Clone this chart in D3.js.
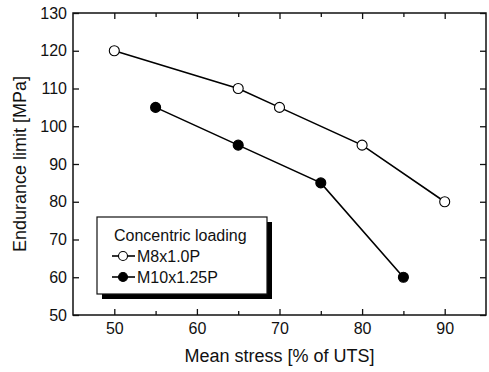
<!DOCTYPE html>
<html>
<head>
<meta charset="utf-8">
<script src="https://cdn.jsdelivr.net/npm/d3@7"></script>
<style>
  body { margin: 0; background: #fff; }
  svg text { font-family: "Liberation Sans", Arial, sans-serif; fill: #111; }
</style>
</head>
<body>
<svg id="chart" width="489" height="372"></svg>
<script>
// data
const m8Stress = [50, 65, 70, 80, 90];
const m8Limit = [120, 110, 105, 95, 80];
const m10Stress = [55, 65, 75, 85];
const m10Limit = [105, 95, 85, 60];
const seriesNames = ["M8x1.0P", "M10x1.25P"];
const legendTitle = "Concentric loading";
const xMajor = [50, 60, 70, 80, 90];
const xMinor = [55, 65, 75, 85];
const yMajor = [50, 60, 70, 80, 90, 100, 110, 120, 130];

const svg = d3.select("#chart");
const width = +svg.attr("width");
const height = +svg.attr("height");
const margin = {top: 13, right: 3, bottom: 57, left: 73};
const innerW = width - margin.left - margin.right;
const innerH = height - margin.top - margin.bottom;

const x = d3.scaleLinear().domain([45, 95]).range([0, innerW]);
const y = d3.scaleLinear().domain([50, 130]).range([innerH, 0]);

const g = svg.append("g")
  .attr("transform", `translate(${margin.left},${margin.top})`);

// axes with inward ticks
function styleAxis(sel) {
  sel.select(".domain").remove();
  sel.selectAll(".tick line").attr("stroke", "#111").attr("stroke-width", 1.3);
  sel.selectAll(".tick text").style("font-size", "16px").attr("fill", "#111");
}

g.append("g").attr("transform", `translate(0,${innerH})`)
  .call(d3.axisBottom(x).tickValues(xMajor).tickSize(-6).tickPadding(8).tickFormat(d3.format("d")))
  .call(styleAxis);
g.append("g").attr("transform", `translate(0,${innerH})`)
  .call(d3.axisBottom(x).tickValues(xMinor).tickSize(-4).tickFormat(""))
  .call(styleAxis);
g.append("g")
  .call(d3.axisTop(x).tickValues(xMajor).tickSize(-6).tickFormat(""))
  .call(styleAxis);
g.append("g")
  .call(d3.axisTop(x).tickValues(xMinor).tickSize(-4).tickFormat(""))
  .call(styleAxis);
g.append("g")
  .call(d3.axisLeft(y).tickValues(yMajor).tickSize(-6).tickPadding(6).tickFormat(d3.format("d")))
  .call(styleAxis);
g.append("g").attr("transform", `translate(${innerW},0)`)
  .call(d3.axisRight(y).tickValues(yMajor).tickSize(-6).tickFormat(""))
  .call(styleAxis);

// frame
g.append("rect")
  .attr("width", innerW)
  .attr("height", innerH)
  .attr("fill", "none")
  .attr("stroke", "#111")
  .attr("stroke-width", 1.5);

// series
const series = [
  {name: seriesNames[0], pts: m8Stress.map((s, i) => [s, m8Limit[i]]), fill: "#fff"},
  {name: seriesNames[1], pts: m10Stress.map((s, i) => [s, m10Limit[i]]), fill: "#000"}
];

const line = d3.line().x(d => x(d[0])).y(d => y(d[1]));

series.forEach(s => {
  g.append("path")
    .datum(s.pts)
    .attr("d", line)
    .attr("fill", "none")
    .attr("stroke", "#000")
    .attr("stroke-width", 1.6);
  g.selectAll(null)
    .data(s.pts)
    .enter()
    .append("circle")
    .attr("cx", d => x(d[0]))
    .attr("cy", d => y(d[1]))
    .attr("r", 5)
    .attr("fill", s.fill)
    .attr("stroke", "#000")
    .attr("stroke-width", 1.1);
});

// legend box with drop shadow
const lg = svg.append("g").attr("transform", "translate(97,217)");
const boxW = 170, boxH = 77;
lg.append("rect")
  .attr("x", 5).attr("y", 5)
  .attr("width", boxW).attr("height", boxH)
  .attr("fill", "#000");
lg.append("rect")
  .attr("width", boxW).attr("height", boxH)
  .attr("fill", "#fff")
  .attr("stroke", "#111")
  .attr("stroke-width", 1.2);

lg.append("text")
  .attr("x", 17).attr("y", 24)
  .style("font-size", "16px")
  .text(legendTitle);

series.forEach((s, i) => {
  const ly = 39 + i * 21;
  lg.append("line")
    .attr("x1", 15).attr("x2", 38)
    .attr("y1", ly).attr("y2", ly)
    .attr("stroke", "#000").attr("stroke-width", 1.6);
  lg.append("circle")
    .attr("cx", 26).attr("cy", ly).attr("r", 4.5)
    .attr("fill", s.fill)
    .attr("stroke", "#000").attr("stroke-width", 1.1);
  lg.append("text")
    .attr("x", 40).attr("y", ly + 6)
    .style("font-size", "16px")
    .text(s.name);
});

// axis titles
svg.append("text")
  .attr("x", margin.left + innerW / 2)
  .attr("y", 362)
  .attr("text-anchor", "middle")
  .style("font-size", "18px")
  .text("Mean stress [% of UTS]");

svg.append("text")
  .attr("transform", `translate(26,${margin.top + innerH / 2}) rotate(-90)`)
  .attr("text-anchor", "middle")
  .style("font-size", "18px")
  .text("Endurance limit [MPa]");
</script>
</body>
</html>
